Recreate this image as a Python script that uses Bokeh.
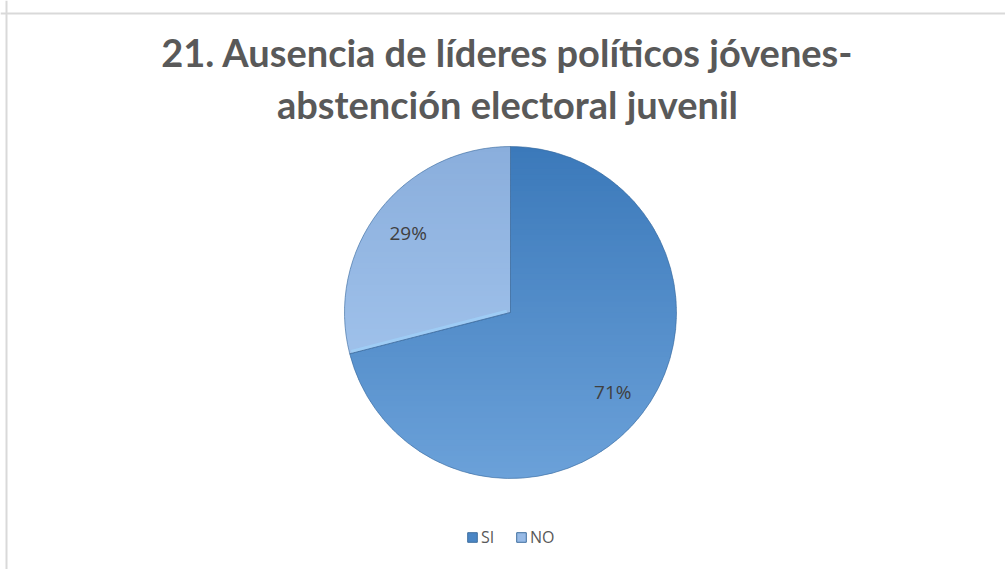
import math
from bokeh.plotting import figure
from bokeh.models import Range1d, Label, Legend, LegendItem, Span
from bokeh.embed import file_html
from bokeh.resources import INLINE

# ---- data ----
categories = ["SI", "NO"]
values = [71, 29]
pct_labels = ["71%", "29%"]
title_lines = ["21. Ausencia de líderes políticos jóvenes-", "abstención electoral juvenil"]

# ---- styles ----
top_colors = ["#3b79ba", "#8aaedc"]
bottom_colors = ["#6ba1d9", "#abccf3"]
legend_colors = ["#4a86c5", "#97bae6"]
edge_color = "#3a6a9e"
text_color = "#595959"
label_color = "#404040"

W, H = 1005, 569
p = figure(width=W, height=H, x_range=Range1d(0, W), y_range=Range1d(0, H),
           output_backend="svg", toolbar_location=None, min_border=0)
p.axis.visible = False
p.grid.visible = False
p.outline_line_color = None
p.background_fill_color = "white"
p.border_fill_color = "white"

# chart border (top & left visible in reference)
p.add_layout(Span(location=556, dimension="width", line_color="#d9d9d9", line_width=2))
p.add_layout(Span(location=6, dimension="height", line_color="#d9d9d9", line_width=2))

cx, cy, r = 510, 257, 166
total = float(sum(values))


def hex2rgb(h):
    h = h.lstrip("#")
    return [int(h[i:i + 2], 16) for i in (0, 2, 4)]


def mix(c1, c2, t):
    a, b = hex2rgb(c1), hex2rgb(c2)
    return "#%02x%02x%02x" % tuple(int(round(a[i] + (b[i] - a[i]) * t)) for i in range(3))


def clip(poly, yv, keep_above):
    out = []
    n = len(poly)
    for i in range(n):
        cur = poly[i]
        prev = poly[i - 1]
        cin = cur[1] >= yv if keep_above else cur[1] <= yv
        pin = prev[1] >= yv if keep_above else prev[1] <= yv
        if cin != pin:
            t = (yv - prev[1]) / (cur[1] - prev[1])
            out.append((prev[0] + t * (cur[0] - prev[0]), yv))
        if cin:
            out.append(cur)
    return out


starts, ends = [], []
cum = 0.0
for v in values:
    a0 = math.pi / 2 - cum / total * 2 * math.pi
    cum += v
    a1 = math.pi / 2 - cum / total * 2 * math.pi
    starts.append(a0)
    ends.append(a1)

nb = 60
band = 2 * r / nb
for k, cat in enumerate(categories):
    a0, a1 = starts[k], ends[k]
    npts = 240
    poly = [(cx, cy)] + [(cx + r * math.cos(a0 + (a1 - a0) * i / npts),
                          cy + r * math.sin(a0 + (a1 - a0) * i / npts)) for i in range(npts + 1)]
    xs, ys, cols = [], [], []
    for b in range(nb):
        ytop = cy + r - b * band
        ybot = ytop - band - 0.8
        piece = clip(clip(poly, ybot, True), ytop, False)
        if len(piece) < 3:
            continue
        xs.append([q[0] for q in piece])
        ys.append([q[1] for q in piece])
        cols.append(mix(top_colors[k], bottom_colors[k], (b + 0.5) / nb))
    p.patches(xs=xs, ys=ys, fill_color=cols, line_color=None)

# slice outlines
p.wedge(x=[cx] * len(values), y=[cy] * len(values), radius=r,
        start_angle=starts, end_angle=ends, direction="clock",
        fill_color=None, line_color=edge_color, line_width=1, line_alpha=0.6)

# bevel highlight on SI/NO lower boundary
a = ends[0]
p.segment(x0=[cx + 4 * math.cos(a - 0.6)], y0=[cy + 4 * math.sin(a - 0.6)],
          x1=[cx + (r - 2) * math.cos(a - 0.012)], y1=[cy + (r - 2) * math.sin(a - 0.012)],
          line_color="#9fd0f7", line_width=3, line_alpha=0.8)

# percentage labels
for k in range(len(values)):
    mid = (starts[k] + ends[k]) / 2
    p.add_layout(Label(x=cx + 0.78 * r * math.cos(mid), y=cy + 0.78 * r * math.sin(mid),
                       text=pct_labels[k], text_align="center", text_baseline="middle",
                       text_font="Open Sans", text_font_size="19px", text_color=label_color))

# title
for i, line in enumerate(title_lines):
    p.add_layout(Label(x=507, y=518 - 52 * i, text=line, text_align="center",
                       text_baseline="alphabetic", text_font="Lato",
                       text_font_style="bold", text_font_size="38px", text_color=text_color))

# legend
items = []
for k, cat in enumerate(categories):
    rr = p.quad(left=[-50], right=[-40], top=[-40], bottom=[-50], fill_color=legend_colors[k],
                line_color="#3f6f9f", line_width=1)
    items.append(LegendItem(label=cat, renderers=[rr]))
legend = Legend(items=items, orientation="horizontal", location=(466, 21),
                glyph_width=12, glyph_height=12, label_standoff=3, spacing=14,
                padding=0, margin=0, border_line_color=None, background_fill_alpha=0,
                label_text_font="Open Sans", label_text_font_size="16px",
                label_text_color=text_color)
p.add_layout(legend, "center")

open("out.html", "w").write(file_html(p, INLINE))
